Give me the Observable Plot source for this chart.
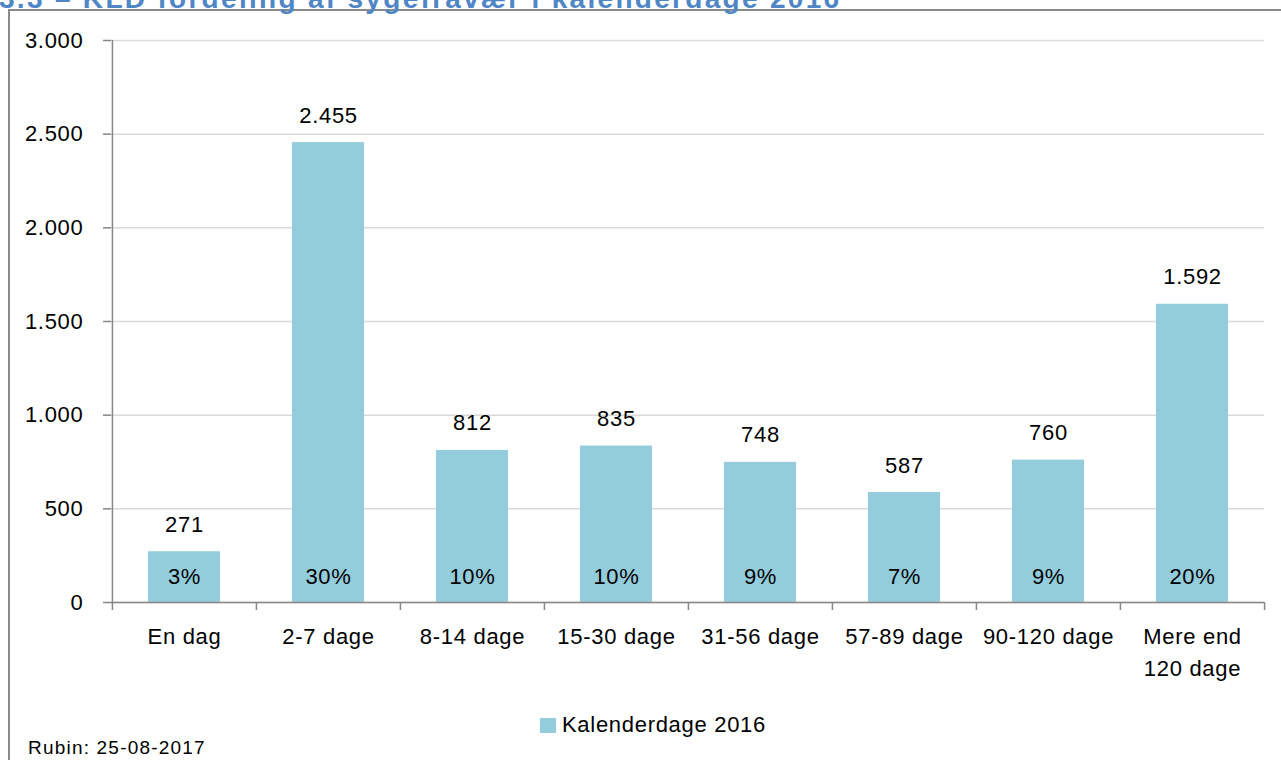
<!DOCTYPE html>
<html><head><meta charset="utf-8">
<script src="https://cdn.jsdelivr.net/npm/d3@7"></script>
<script src="https://cdn.jsdelivr.net/npm/@observablehq/plot@0.6"></script>
<style>
body{margin:0;background:#fff;}
#wrap{position:relative;width:1281px;height:760px;overflow:hidden;font-family:'Liberation Sans',Arial,sans-serif;}
#frame{position:absolute;left:8px;top:9px;width:1400px;height:900px;border:2px solid #8a8a8a;box-sizing:border-box;}
#title{position:absolute;left:-1px;top:-15px;font-weight:bold;font-size:28px;line-height:28px;color:#4f86c6;letter-spacing:2.3px;white-space:pre;}
#chart{position:absolute;left:0;top:0;}
#legend{position:absolute;left:540px;top:713px;font-size:22px;line-height:24px;letter-spacing:0.7px;display:flex;align-items:center;color:#000;}
#legend .sw{width:16px;height:15px;background:#93cddc;margin-right:6px;}
#caption{position:absolute;left:28px;top:738px;font-size:19px;line-height:19px;letter-spacing:1.2px;color:#000;}
</style></head>
<body>
<div id="wrap">
  <div id="frame"></div>
  <div id="title">3.3 – KLD fordeling af sygefravær i kalenderdage 2016</div>
  <div id="chart"></div>
  <div id="legend"><div class="sw"></div><span>Kalenderdage 2016</span></div>
  <div id="caption">Rubin: 25-08-2017</div>
</div>
<script>
const categories = ["En dag", "2-7 dage", "8-14 dage", "15-30 dage", "31-56 dage", "57-89 dage", "90-120 dage", "Mere end\n120 dage"];
const values = [271, 2455, 812, 835, 748, 587, 760, 1592];
const percents = ["3%", "30%", "10%", "10%", "9%", "7%", "9%", "20%"];
const yTicks = [0, 500, 1000, 1500, 2000, 2500, 3000];

const data = categories.map((c, i) => ({cat: c, value: values[i], pct: percents[i]}));
const fmt = d => d3.format(",")(d).replace(/,/g, ".");

const W = 1281, H = 700, ML = 111, MR = 17, MT = 40, MB = 98;
const step = (W - ML - MR) / categories.length;
const axisColor = "#868686";

const chart = Plot.plot({
  width: W, height: H,
  marginLeft: ML, marginRight: MR, marginTop: MT, marginBottom: MB,
  x: {domain: categories, paddingInner: 0.5, paddingOuter: 0.25, label: null},
  y: {domain: [0, 3000], label: null},
  style: {fontFamily: "'Liberation Sans', Arial, sans-serif", fontSize: "22px", letterSpacing: "0.7px", color: "#000", background: "transparent", overflow: "visible"},
  marks: [
    Plot.gridY(yTicks, {stroke: "#d9d9d9", strokeOpacity: 1, strokeWidth: 1.5}),
    Plot.barY(data, {x: "cat", y: "value", fill: "#93cddc"}),
    Plot.ruleY([0], {stroke: axisColor, strokeWidth: 1.5}),
    Plot.ruleX([categories[0]], {x: d => d, y1: 0, y2: 3000, dx: -step / 2, stroke: axisColor, strokeWidth: 1.5}),
    Plot.ruleX(categories, {x: d => d, y1: 0, y2: 0, insetBottom: -8, dx: -step / 2, stroke: axisColor, strokeWidth: 1.5}),
    Plot.ruleX([categories[categories.length - 1]], {x: d => d, y1: 0, y2: 0, insetBottom: -8, dx: step / 2, stroke: axisColor, strokeWidth: 1.5}),
    Plot.axisY(yTicks, {tickSize: 8, tickPadding: 20, stroke: axisColor, strokeWidth: 1.5, tickFormat: fmt, fill: "#000", fontSize: 22, label: null}),
    Plot.axisX({tickSize: 0, tickPadding: 19, lineHeight: 1.45, fontSize: 22, fill: "#000", label: null}),
    Plot.text(data, {x: "cat", y: "value", text: d => fmt(d.value), dy: -27, fontSize: 22, fill: "#000"}),
    Plot.text(data, {x: "cat", y: 0, text: "pct", dy: -26, fontSize: 22, fill: "#000"})
  ]
});
document.getElementById("chart").appendChild(chart);
</script>
</body></html>
